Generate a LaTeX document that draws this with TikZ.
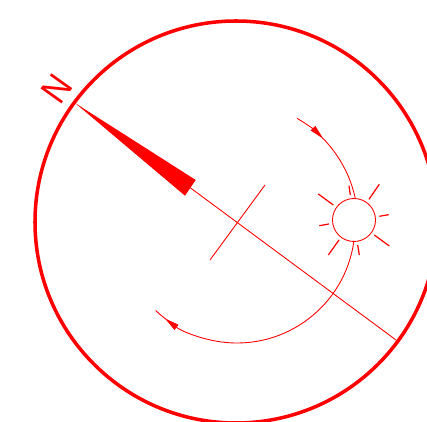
\documentclass[tikz,border=0pt]{standalone}
\usepackage{fontspec}
\setmainfont{Liberation Sans}
\usetikzlibrary{arrows.meta}
\definecolor{merah}{RGB}{255,0,0}
\begin{document}
\begin{tikzpicture}[x=.01cm, y=-.01cm,
        thinline/.style={draw=merah, line width=.25pt},
        ray/.style={draw=merah, line width=.35pt},
        flow/.style={thinline, -{Triangle[length=4.2pt, width=1.8pt]}},
        sunbox/.style={circle, draw=merah, line width=.25pt, minimum size=.43cm, inner sep=0pt},
        letter/.style={text=merah, font=\fontsize{10.6}{12}\selectfont, inner sep=0pt}
    ]
        \clip (0,0) rectangle (427,422);
        \draw[merah, line width=1pt] (236,222) circle[radius=201];
        \coordinate (tip) at (75,103);
        \coordinate (baseA) at (195.7,180);
        \coordinate (baseB) at (185,195.7);
        \coordinate (baseM) at (190.3,187.8);
        \coordinate (rim) at (396,340);
        \fill[merah] (tip) -- (baseA) -- (baseB) -- cycle;
        \draw[thinline] (baseM) -- (rim);
        \coordinate (crossA) at (265,185);
        \coordinate (crossB) at (210,260);
        \draw[thinline] (crossA) -- (crossB);
        \node[letter, rotate=-125.5, xscale=.9, transform shape] (north) at (56.5,88.5) {N};
        \node[sunbox] (sun) at (354,220) {};
        \draw[ray] (318.3,194) -- (333.3,205);
        \draw[ray] (379.3,184.3) -- (369,199.3);
        \draw[ray] (388.7,214.7) -- (379.3,216.3);
        \draw[ray] (389.3,246) -- (374.3,235);
        \draw[ray] (328.3,255) -- (339,240);
        \draw[ray] (319.3,225.7) -- (329,224);
        \draw[ray] (349,185.7) -- (350.3,195);
        \draw[ray] (357.7,245) -- (359.3,255);
        \draw[flow] (236,224) ++(-60:122) arc[start angle=-60, end angle=-44.3, radius=122];
        \draw[thinline] (236,224) ++(-45:122) arc[start angle=-45, end angle=-12, radius=122];
        \draw[flow] (237,225) ++(7.7:118) arc[start angle=7.7, end angle=127.7, radius=118];
        \draw[thinline] (237,225) ++(127:118) arc[start angle=127, end angle=133.6, radius=118];
    \end{tikzpicture}
\end{document}
